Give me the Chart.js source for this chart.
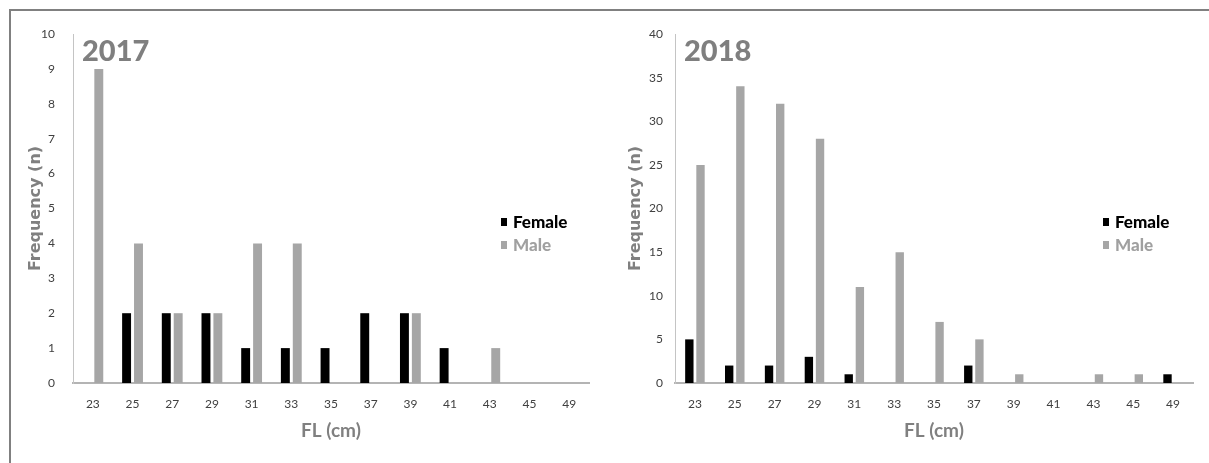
<!DOCTYPE html>
<html>
<head>
<meta charset="utf-8">
<script src="https://cdn.jsdelivr.net/npm/chart.js@4.4.1/dist/chart.umd.min.js"></script>
<style>
  body { margin: 0; background: #fff; width: 1209px; height: 463px; overflow: hidden; position: relative; }
  .frame { position: absolute; left: 9px; top: 9px; width: 1200px; height: 454px; border-top: 2px solid #808080; border-left: 2px solid #808080; }
  .box { position: absolute; top: 0; height: 463px; }
  #box2017 { left: 0; width: 600px; }
  #box2018 { left: 600px; width: 609px; }
</style>
</head>
<body>
<div class="frame"></div>
<div class="box" id="box2017"><canvas id="chart2017"></canvas></div>
<div class="box" id="box2018"><canvas id="chart2018"></canvas></div>
<script>
// fork length classes (cm)
const lengths = ['23', '25', '27', '29', '31', '33', '35', '37', '39', '41', '43', '45', '49'];

const female2017 = [0, 2, 2, 2, 1, 1, 1, 2, 2, 1, 0, 0, 0];
const male2017   = [9, 4, 2, 2, 4, 4, 0, 0, 2, 0, 1, 0, 0];

const female2018 = [5, 2, 2, 3, 1, 0, 0, 2, 0, 0, 0, 0, 1];
const male2018   = [25, 34, 32, 28, 11, 15, 7, 5, 1, 0, 1, 1, 0];

const yTicks2017 = { max: 10, step: 1 };
const yTicks2018 = { max: 40, step: 5 };

const tickFont = { family: "Liberation Sans Narrow, Lato, sans-serif", size: 12 };

// draws the year label and the small legend inside the plot
const overlay = {
    id: 'overlay',
    afterDraw(chart, args, opts) {
        const ctx = chart.ctx;
        const area = chart.chartArea;
        ctx.save();
        ctx.fillStyle = '#7f7f7f';
        ctx.font = '900 29px Lato, sans-serif';
        ctx.textBaseline = 'alphabetic';
        ctx.textAlign = 'left';
        ctx.fillText(opts.year, area.left + 9, area.top + 27);

        const midY = (area.top + area.bottom) / 2;
        ctx.font = '900 17px Lato, sans-serif';
        ctx.textBaseline = 'middle';
        chart.data.datasets.forEach(function(ds, i) {
            const y = midY + 13.5 + i * 23;
            const x = area.right - opts.legendRight;
            ctx.fillStyle = ds.backgroundColor;
            ctx.fillRect(x, y - 4, 6, 8);
            ctx.fillStyle = ds.legendColor;
            ctx.fillText(ds.label, x + 12, y + 1);
        });
        ctx.restore();
    }
};

function makeChart(id, year, female, male, yt, opts) {
    const ctx = document.getElementById(id).getContext('2d');
    return new Chart(ctx, {
        type: 'bar',
        data: {
            labels: lengths,
            datasets: [{
                label: 'Female',
                data: female,
                backgroundColor: '#000000',
                legendColor: '#000000',
                categoryPercentage: opts.catPct,
                barPercentage: 0.75
            }, {
                label: 'Male',
                data: male,
                backgroundColor: '#a6a6a6',
                legendColor: '#a0a0a0',
                categoryPercentage: opts.catPct,
                barPercentage: 0.75
            }]
        },
        options: {
            responsive: true,
            maintainAspectRatio: false,
            animation: false,
            layout: { padding: { top: 34, left: 22, right: opts.padRight, bottom: 0 } },
            plugins: {
                legend: { display: false },
                tooltip: { enabled: false },
                overlay: { year: year, legendRight: opts.legendRight }
            },
            scales: {
                x: {
                    grid: { display: false, drawTicks: false },
                    border: { display: true, color: '#b4b4b4', width: 2 },
                    ticks: { color: '#404040', font: tickFont, padding: 14, maxRotation: 0, autoSkip: false },
                    title: {
                        display: true,
                        text: 'FL (cm)',
                        color: '#808080',
                        font: { family: 'Lato, sans-serif', size: 19, weight: 'bold' },
                        padding: { top: 0, bottom: 21 }
                    },
                    afterFit: function(scale) { scale.height = 80; }
                },
                y: {
                    min: 0,
                    max: yt.max,
                    grid: { display: false, drawTicks: false },
                    border: { display: true, color: '#c4c4c4', width: 1 },
                    ticks: { stepSize: yt.step, color: '#404040', font: tickFont, padding: opts.yPad },
                    title: {
                        display: true,
                        text: 'Frequency (n)',
                        color: '#808080',
                        font: { family: "DejaVu Sans, sans-serif", size: 16, weight: 'bold' },
                        padding: { top: 4, bottom: 0 }
                    },
                    afterFit: function(scale) { scale.width = opts.yWidth; }
                }
            }
        },
        plugins: [overlay]
    });
}

makeChart('chart2017', '2017', female2017, male2017, yTicks2017,
    { catPct: 0.6, padRight: 11, yWidth: 51, yPad: 18, legendRight: 88 });
makeChart('chart2018', '2018', female2018, male2018, yTicks2018,
    { catPct: 0.56, padRight: 16, yWidth: 53, yPad: 12, legendRight: 90 });
</script>
</body>
</html>
